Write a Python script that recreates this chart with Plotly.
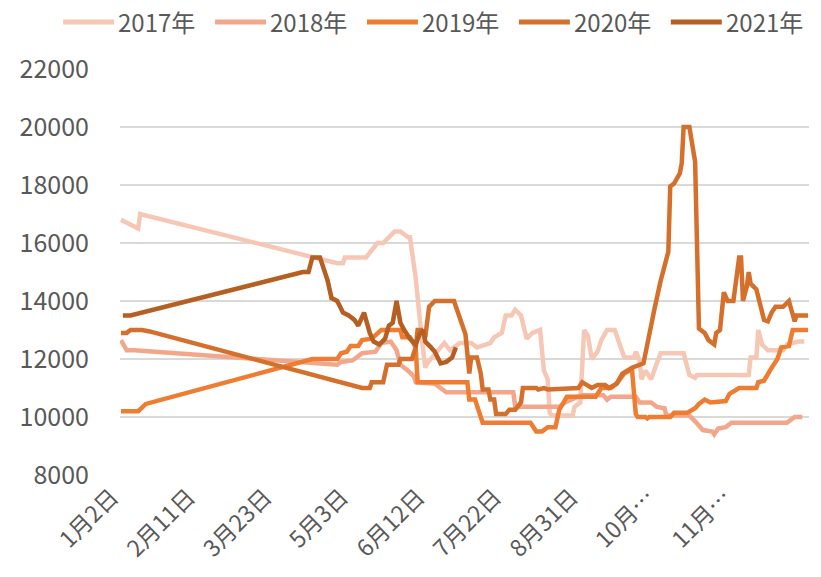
import plotly.graph_objects as go

# category axis: day index (0 = 1月2日), 360 categories
tick_days = [0, 40, 80, 120, 160, 200, 240, 280, 320]
tick_labels = ["1月2日", "2月11日", "3月23日", "5月3日", "6月12日", "7月22日", "8月31日", "10月…", "11月…"]
y_ticks = [8000, 10000, 12000, 14000, 16000, 18000, 20000, 22000]

day_2017 = [0, 8, 9, 10, 113, 116, 117, 128, 134, 137, 140, 143, 146, 150, 151, 154, 157, 159, 160, 164, 167, 169, 172, 177,
            183, 186, 190, 193, 195, 199, 201, 204, 206, 209, 212, 215, 219, 221, 223, 224, 225, 236, 237, 240, 242, 244,
            246, 249, 251, 254, 258, 261, 263, 268, 269, 271, 272, 274, 277, 280, 282, 294, 296, 297, 300, 301, 304, 328,
            329, 332, 333, 335, 338, 346, 348, 354, 357]
val_2017 = [16800, 16500, 16500, 17000, 15300, 15300, 15500, 15500, 16000, 16000, 16200, 16400, 16400, 16200, 16200, 14800,
            12800, 11700, 11850, 12200, 12400, 12550, 12300, 12550, 12550, 12400, 12500, 12550, 12750, 12900, 13500, 13500,
            13700, 13500, 12700, 12900, 13000, 11600, 11300, 10150, 10050, 10050, 10350, 10500, 13000, 12800, 12000, 12250,
            12650, 13000, 13000, 12400, 12050, 12050, 12250, 11950, 11300, 11600, 11300, 11850, 12200, 12200, 11600, 11450,
            11350, 11450, 11450, 11450, 12050, 12050, 13000, 12500, 12300, 12300, 12500, 12600, 12600]

day_2018 = [0, 3, 7, 113, 115, 121, 126, 133, 136, 141, 144, 146, 150, 153, 154, 164, 168, 170, 205, 206, 229, 232, 237,
            241, 252, 254, 256, 269, 271, 277, 280, 284, 285, 297, 300, 304, 309, 310, 312, 316, 319, 348, 352, 356]
val_2018 = [12650, 12300, 12300, 11800, 11900, 11950, 12200, 12250, 12550, 12600, 12300, 11800, 11600, 11400, 11200, 11150,
            10950, 10850, 10850, 10350, 10350, 10500, 10650, 10750, 10750, 10600, 10700, 10700, 10500, 10500, 10350, 10300,
            10050, 10050, 9850, 9550, 9500, 9400, 9600, 9650, 9800, 9800, 10000, 10000]

day_2019 = [0, 9, 13, 100, 113, 115, 118, 120, 124, 126, 131, 136, 146, 147, 151, 154, 155, 181, 182, 185, 187, 189, 214,
            217, 220, 223, 227, 229, 233, 242, 248, 251, 256, 259, 263, 267, 269, 270, 274, 275, 276, 287, 289, 296, 300,
            302, 305, 308, 316, 318, 321, 323, 332, 333, 336, 338, 340, 343, 345, 349, 351, 359]
val_2019 = [10200, 10200, 10450, 12000, 12000, 12200, 12250, 12450, 12450, 12650, 12700, 13000, 13000, 12750, 12750, 12400,
            11200, 11200, 10600, 10600, 10200, 9800, 9800, 9500, 9500, 9650, 9650, 10250, 10700, 10700, 10700, 11000, 11000,
            11150, 11500, 11650, 10100, 10000, 10000, 9950, 10000, 10000, 10150, 10150, 10300, 10450, 10600, 10500, 10550,
            10800, 10900, 11000, 11000, 11200, 11250, 11500, 11700, 12000, 12400, 12450, 13000, 13000]

day_2020 = [0, 3, 5, 11, 15, 126, 130, 131, 137, 139, 145, 146, 152, 154, 155, 157, 159, 161, 164, 174, 180, 182, 183, 186,
            188, 189, 192, 193, 195, 196, 201, 203, 206, 209, 210, 217, 218, 221, 223, 239, 241, 244, 246, 249, 253, 255,
            259, 262, 267, 273, 276, 279, 282, 286, 287, 289, 292, 293, 294, 297, 300, 301, 302, 305, 307, 310, 311, 313,
            315, 317, 320, 323, 324, 325, 327, 328, 329, 332, 334, 336, 338, 340, 342, 346, 349, 351, 352, 353, 359]
val_2020 = [12900, 12900, 13000, 13000, 12950, 11000, 11000, 11200, 11200, 11800, 11800, 12000, 12000, 12400, 13000, 13000,
            12750, 13800, 14000, 14000, 12850, 11500, 12050, 12050, 11500, 10950, 10950, 10600, 10600, 10100, 10100, 10250,
            10250, 10500, 11000, 11000, 10950, 11000, 10950, 11000, 11200, 11100, 11000, 11100, 11100, 11000, 11150, 11500,
            11700, 11850, 12900, 13800, 14700, 15700, 17950, 18050, 18400, 18750, 20000, 20000, 18800, 15000, 13050, 12900,
            12650, 12500, 12900, 13000, 14300, 14000, 14000, 15500, 15500, 14000, 14500, 15000, 14600, 14400, 13800, 13350,
            13300, 13600, 13800, 13800, 14000, 13450, 13300, 13500, 13500]

day_2021 = [1, 5, 95, 98, 100, 104, 108, 110, 113, 116, 119, 122, 124, 127, 130, 132, 135, 138, 140, 142, 144, 146, 148,
            151, 154, 156, 158, 159, 162, 164, 167, 170, 173, 175]
val_2021 = [13500, 13500, 15000, 15000, 15500, 15500, 14700, 14100, 14000, 13600, 13500, 13350, 13150, 13600, 12900, 12600,
            12500, 12700, 13150, 13250, 14000, 13250, 13000, 12700, 12500, 12850, 13000, 12600, 12400, 12250, 11850, 11900,
            12050, 12400]

series_names = ["2017年", "2018年", "2019年", "2020年", "2021年"]
series_days = [day_2017, day_2018, day_2019, day_2020, day_2021]
series_vals = [val_2017, val_2018, val_2019, val_2020, val_2021]
colors = ["#F6C7B5", "#F2A78B", "#EE7D32", "#D5702C", "#B65F22"]

FONT = "Noto Sans CJK SC, Noto Sans, sans-serif"
TXT = "#595959"

# page body has an 8px margin; figure is sized so the plot lands where the reference has it
OFF = 8
W, H = 821 - OFF, 577 - OFF
L, R, T, B = 106, 809, 69, 475          # plot area in screen pixels
def px_x(p):
    return (p - L) / (R - L)
def px_y(p):
    return (B - p) / (B - T)

fig = go.Figure()
shapes = []
annotations = []
for k, (name, x, y, color) in enumerate(zip(series_names, series_days, series_vals, colors)):
    fig.add_trace(go.Scatter(x=x, y=y, mode="lines", name=name,
                             line=dict(color=color, width=4.5), hoverinfo="skip", showlegend=False))
    x0 = 48 + 155 * k
    shapes.append(dict(type="line", xref="paper", yref="paper", layer="below",
                       x0=px_x(x0), x1=px_x(x0 + 52), y0=px_y(22), y1=px_y(22),
                       line=dict(color=color, width=5)))
    annotations.append(dict(xref="paper", yref="paper", x=px_x(x0 + 55), y=px_y(22),
                            xanchor="left", yanchor="middle", text=name, showarrow=False,
                            borderpad=0,
                            font=dict(family=FONT, size=24, color=TXT)))

fig.update_layout(
    width=W, height=H,
    margin=dict(l=L - OFF, r=821 - R, t=T - OFF, b=577 - B),
    paper_bgcolor="white", plot_bgcolor="white",
    font=dict(family=FONT, size=24, color=TXT),
    showlegend=False,
    shapes=shapes, annotations=annotations,
    xaxis=dict(range=[-0.5, 359.5], tickmode="array", tickvals=tick_days, ticktext=tick_labels,
               tickangle=-45, showgrid=False, zeroline=False, showline=False, ticks="",
               ticklabelshift=-9, ticklabelstandoff=3,
               tickfont=dict(family=FONT, size=23, color=TXT)),
    yaxis=dict(range=[8000, 22000], tickmode="array", tickvals=y_ticks, ticktext=[str(v) for v in y_ticks],
               showgrid=True, gridcolor="#D9D9D9", gridwidth=1.5, zeroline=False, showline=False,
               ticks="", ticklabelstandoff=30,
               tickfont=dict(family=FONT, size=25, color=TXT)),
)

fig.write_html("out.html")
